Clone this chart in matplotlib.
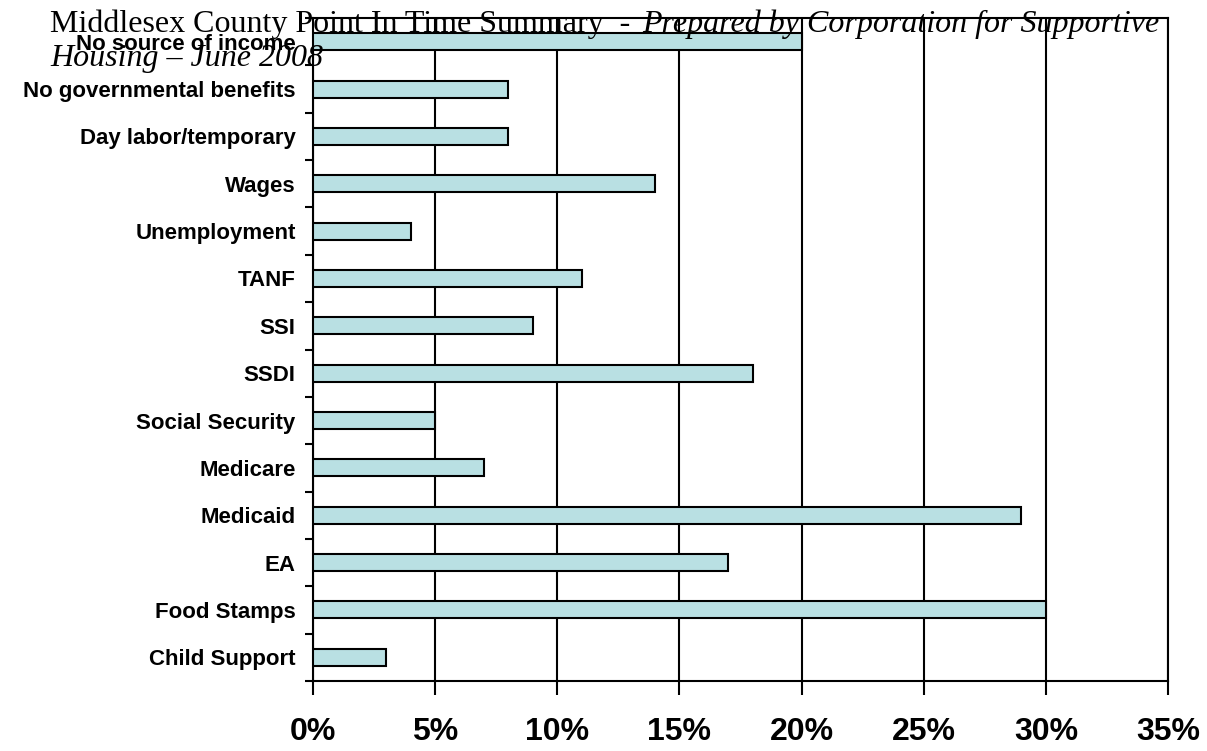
import matplotlib
matplotlib.use("Agg")
import matplotlib.pyplot as plt
import numpy as np

categories = ["No source of income", "No governmental benefits", "Day labor/temporary",
              "Wages", "Unemployment", "TANF", "SSI", "SSDI", "Social Security",
              "Medicare", "Medicaid", "EA", "Food Stamps", "Child Support"]
values = [20, 8, 8, 14, 4, 11, 9, 18, 5, 7, 29, 17, 30, 3]
xticks = [0, 5, 10, 15, 20, 25, 30, 35]
xticklabels = ["0%", "5%", "10%", "15%", "20%", "25%", "30%", "35%"]

fig = plt.figure(figsize=(12.07, 7.51), dpi=100)
ax = fig.add_axes([313/1207, 1 - 681/751, (1168-313)/1207, (681-18)/751])

n = len(categories)
ypos = np.arange(n)[::-1]
ax.barh(ypos, values, height=0.36, color="#B9E0E3", edgecolor="black", linewidth=1.5, zorder=3)

ax.set_xlim(0, 35)
ax.set_ylim(-0.5, n - 0.5)
ax.set_xticks(xticks)
ax.set_xticklabels(xticklabels, fontsize=23, fontweight="bold", family="Liberation Sans")
ax.tick_params(axis="x", length=10, width=1.5, pad=16)
ax.set_yticks(ypos)
ax.set_yticklabels(categories, fontsize=16, fontweight="bold", family="Liberation Sans")
ax.tick_params(axis="y", which="major", length=0, pad=12.5)
ax.set_yticks(np.arange(-0.5, n, 1.0), minor=True)
ax.tick_params(axis="y", which="minor", length=6, width=1.5)
ax.grid(axis="x", color="black", linewidth=1.5, zorder=1)
for s in ax.spines.values():
    s.set_linewidth(1.5)
    s.set_color("black")

fig.text(50/1207, 1 - 32/751, "Middlesex County Point In Time Summary  - ",
         fontsize=23, family="Liberation Serif", ha="left", va="baseline", zorder=10)
fig.text(642/1207, 1 - 32/751, "Prepared by Corporation for Supportive",
         fontsize=23, family="Liberation Serif", style="italic", ha="left", va="baseline", zorder=10)
fig.text(50/1207, 1 - 66/751, "Housing \u2013 June 2008",
         fontsize=23, family="Liberation Serif", style="italic", ha="left", va="baseline", zorder=10)

fig.savefig("out.png", dpi=100)
